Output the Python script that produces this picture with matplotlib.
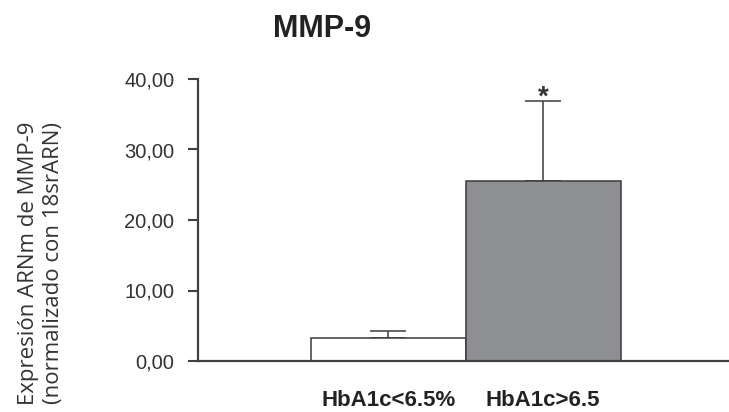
import matplotlib
matplotlib.use("Agg")
import matplotlib.pyplot as plt
import numpy as np

grupos = ["HbA1c<6.5%", "HbA1c>6.5"]
medias = [3.2, 25.5]
errores = [1.1, 11.4]
colores = ["#ffffff", "#8e8f93"]
yticks = [0, 10, 20, 30, 40]
ytick_labels = ["0,00", "10,00", "20,00", "30,00", "40,00"]

plt.rcParams['font.family'] = ['Liberation Sans', 'DejaVu Sans']

fig = plt.figure(figsize=(7.29, 4.12), dpi=100)
ax = fig.add_axes([198/729, 1 - 361/412, 1 - 198/729, (361 - 79)/412])

x = np.arange(len(grupos))
ax.bar(x, medias, width=1.0, color=colores, edgecolor="#3a3a3a", linewidth=1.1, zorder=2)
ax.errorbar(x, medias, yerr=[np.zeros(len(errores)), errores], fmt="none",
            ecolor="#3a3a3a", elinewidth=1.1, capsize=13, capthick=1.1, zorder=1)

# asterisco de significancia
ax.text(x[1], medias[1] + errores[1] - 1.4, "*", ha="center", va="bottom",
        fontsize=20, fontweight="bold", color="#333333")

ax.set_xlim(-1.23, 2.2)
ax.set_ylim(0, 40)
ax.set_yticks(yticks)
ax.set_yticklabels(ytick_labels, fontsize=14.5, color="#333333")
ax.set_xticks(x)
ax.set_xticklabels(grupos, fontsize=16, fontweight="bold", color="#222222")
ax.tick_params(axis="x", length=0, pad=21)
ax.tick_params(axis="y", length=7, width=1.5, color="#404040", pad=10)

for s in ["top", "right"]:
    ax.spines[s].set_visible(False)
for s in ["left", "bottom"]:
    ax.spines[s].set_color("#404040")
    ax.spines[s].set_linewidth(1.6)
ax.patch.set_visible(False)

fig.text(322/729, 1 - 37/412, "MMP-9", ha="center", va="baseline",
         fontsize=22, fontweight="bold", color="#222222")

fig.text(41/729, 1 - 263/412, "Expresión ARNm de MMP-9\n(normalizado con 18srARN)",
         rotation=90, ha="center", va="center", multialignment="center",
         fontsize=16, family=["Open Sans", "DejaVu Sans"], color="#333333", linespacing=1.3)

fig.savefig("out.png", dpi=100)
